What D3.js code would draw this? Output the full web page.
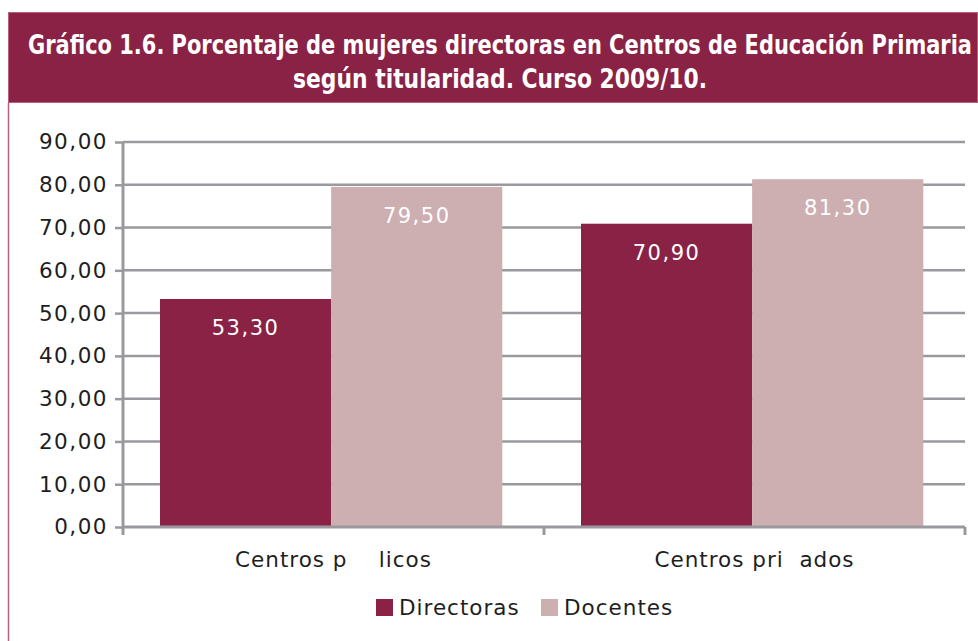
<!DOCTYPE html>
<html>
<head>
<meta charset="utf-8">
<script src="https://cdn.jsdelivr.net/npm/d3@7"></script>
<style>
  body { margin: 0; background: #fff; }
  svg { display: block; }
</style>
</head>
<body>
<svg id="chart" width="978" height="641"></svg>
<script>
const titleLines = [
  "Gráfico 1.6. Porcentaje de mujeres directoras en Centros de Educación Primaria",
  "según titularidad. Curso 2009/10."
];
const titleWidths = [944, 414];
const categories = ["Centros p    licos", "Centros pri  ados"];
const seriesNames = ["Directoras", "Docentes"];
const directoras = [53.3, 70.9];
const docentes = [79.5, 81.3];
const yTicks = [0, 10, 20, 30, 40, 50, 60, 70, 80, 90];

const maroon = "#8a2245";
const pink = "#cdaeb1";
const colors = { Directoras: maroon, Docentes: pink };

const svg = d3.select("svg#chart");
const fmt = (v) => d3.format(".2f")(v).replace(".", ",");

// header band
svg.append("rect")
  .attr("x", 8.5).attr("y", 12.5)
  .attr("width", 969).attr("height", 90)
  .attr("fill", maroon)
  .attr("stroke", "#b8607c").attr("stroke-width", 1);

// left frame line
svg.append("line")
  .attr("x1", 8.5).attr("x2", 8.5)
  .attr("y1", 103).attr("y2", 641)
  .attr("stroke", "#b8607c").attr("stroke-width", 1.5);

// title, stretched to mimic the condensed face
svg.append("g")
  .selectAll("text")
  .data(titleLines)
  .join("text")
  .attr("transform", (_d, i) => `translate(500, ${54 + i * 34}) scale(1, 1.25)`)
  .attr("text-anchor", "middle")
  .attr("fill", "#fff")
  .attr("textLength", (_d, i) => titleWidths[i])
  .attr("lengthAdjust", "spacingAndGlyphs")
  .style("font-family", "'DejaVu Sans Condensed', 'DejaVu Sans', sans-serif")
  .style("font-stretch", "condensed")
  .style("font-weight", "bold")
  .style("font-size", "21px")
  .text((d) => d);

// plot area
const plotLeft = 123, plotRight = 965, plotTop = 142, plotBottom = 527;

const y = d3.scaleLinear().domain([0, 90]).range([plotBottom, plotTop]);
const x0 = d3.scaleBand().domain(categories).range([plotLeft, plotRight]).padding(0);
const x1 = d3.scaleBand().domain(seriesNames).range([0, x0.bandwidth()])
  .paddingInner(0).paddingOuter(0.23).align(0.47);

const axisFont = "'DejaVu Sans', Verdana, sans-serif";
const textColor = "#1e1e1e";

// gridlines
svg.append("g")
  .selectAll("line")
  .data(yTicks.slice(1))
  .join("line")
  .attr("x1", plotLeft).attr("x2", plotRight)
  .attr("y1", (d) => y(d)).attr("y2", (d) => y(d))
  .attr("stroke", "#9a9a9e").attr("stroke-width", 2.5);

// bars
const rows = categories.map((c, i) => ({
  cat: c,
  vals: [
    { key: "Directoras", value: directoras[i] },
    { key: "Docentes", value: docentes[i] }
  ]
}));

const groups = svg.append("g")
  .selectAll("g")
  .data(rows)
  .join("g")
  .attr("transform", (d) => `translate(${x0(d.cat)}, 0)`);

groups.selectAll("rect")
  .data((d) => d.vals)
  .join("rect")
  .attr("x", (d) => x1(d.key))
  .attr("y", (d) => y(d.value))
  .attr("width", x1.bandwidth())
  .attr("height", (d) => y(0) - y(d.value))
  .attr("fill", (d) => colors[d.key]);

groups.selectAll("text")
  .data((d) => d.vals)
  .join("text")
  .attr("x", (d) => x1(d.key) + x1.bandwidth() / 2)
  .attr("y", (d) => y(d.value) + 36)
  .attr("text-anchor", "middle")
  .attr("fill", "#fff")
  .style("font-family", axisFont)
  .style("font-size", "21px")
  .style("letter-spacing", "1.5px")
  .text((d) => fmt(d.value));

// y axis
const yAxis = svg.append("g")
  .attr("transform", `translate(${plotLeft}, 0)`)
  .call(d3.axisLeft(y).tickValues(yTicks).tickSize(8).tickPadding(7).tickFormat(fmt));
yAxis.select(".domain").remove();
yAxis.selectAll(".tick line").attr("stroke", "#9a9a9e").attr("stroke-width", 2.5);
yAxis.selectAll(".tick text")
  .attr("fill", textColor)
  .style("font-family", axisFont)
  .style("font-size", "21.5px")
  .style("letter-spacing", "1.5px");
yAxis.append("line")
  .attr("x1", 0).attr("x2", 0)
  .attr("y1", plotTop).attr("y2", plotBottom + 8)
  .attr("stroke", "#9a9a9e").attr("stroke-width", 3);

// x axis
svg.append("line")
  .attr("x1", plotLeft).attr("x2", plotRight)
  .attr("y1", plotBottom).attr("y2", plotBottom)
  .attr("stroke", "#9a9a9e").attr("stroke-width", 3);

svg.append("g")
  .selectAll("line")
  .data(categories.slice(1).concat(["end"]))
  .join("line")
  .attr("x1", (d) => d === "end" ? plotRight : x0(d))
  .attr("x2", (d) => d === "end" ? plotRight : x0(d))
  .attr("y1", plotBottom).attr("y2", plotBottom + 8)
  .attr("stroke", "#9a9a9e").attr("stroke-width", 3);

svg.append("g")
  .selectAll("text")
  .data(categories)
  .join("text")
  .attr("x", (d) => x0(d) + x0.bandwidth() / 2)
  .attr("y", plotBottom + 40)
  .attr("text-anchor", "middle")
  .attr("fill", textColor)
  .style("font-family", axisFont)
  .style("font-size", "21.5px")
  .style("letter-spacing", "1px")
  .style("white-space", "pre")
  .text((d) => d);

// legend
const legend = svg.append("g").attr("transform", "translate(376, 599)");
const legendX = [0, 165];
const item = legend.selectAll("g")
  .data(seriesNames)
  .join("g")
  .attr("transform", (_d, i) => `translate(${legendX[i]}, 0)`);
item.append("rect")
  .attr("width", 17).attr("height", 17)
  .attr("fill", (d) => colors[d]);
item.append("text")
  .attr("x", 23).attr("y", 16)
  .attr("fill", textColor)
  .style("font-family", axisFont)
  .style("font-size", "21.5px")
  .style("letter-spacing", "1px")
  .text((d) => d);
</script>
</body>
</html>
